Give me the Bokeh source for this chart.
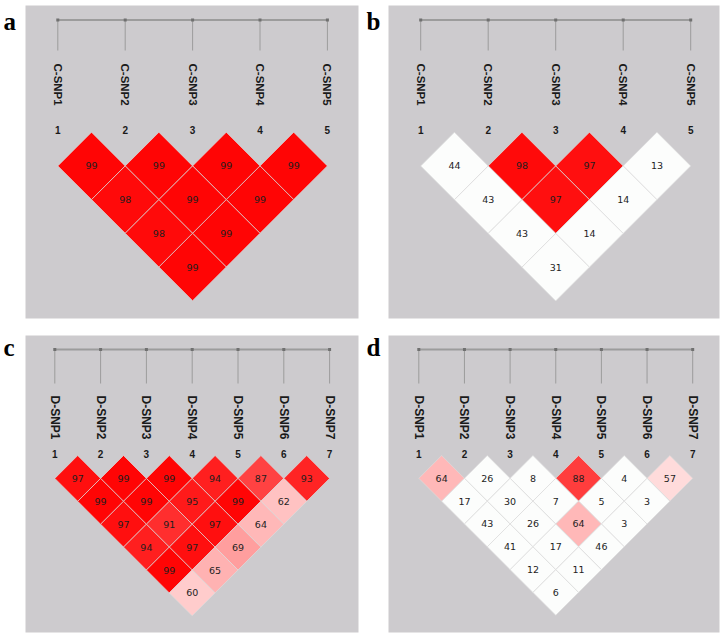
from math import pi
from bokeh.plotting import figure
from bokeh.layouts import column, row
from bokeh.models import Range1d
from bokeh.core.properties import value
from bokeh.embed import file_html
from bokeh.resources import INLINE

# ---------------- data ----------------
c_snps = ["C-SNP1", "C-SNP2", "C-SNP3", "C-SNP4", "C-SNP5"]
d_snps = ["D-SNP1", "D-SNP2", "D-SNP3", "D-SNP4", "D-SNP5", "D-SNP6", "D-SNP7"]

# D' (x100) by distance between markers: row k holds pairs (i, i+k)
a_dprime = [[99, 99, 99, 99], [98, 99, 99], [98, 99], [99]]
a_strong = [[1, 1, 1, 1], [1, 1, 1], [1, 1], [1]]

b_dprime = [[44, 98, 97, 13], [43, 97, 14], [43, 14], [31]]
b_strong = [[0, 1, 1, 0], [0, 1, 0], [0, 0], [0]]

c_dprime = [[97, 99, 99, 94, 87, 93], [99, 99, 95, 99, 62], [97, 91, 97, 64],
            [94, 97, 69], [99, 65], [60]]
c_strong = [[1, 1, 1, 1, 1, 1], [1, 1, 1, 1, 1], [1, 1, 1, 1], [1, 1, 1], [1, 1], [1]]

d_dprime = [[64, 26, 8, 88, 4, 57], [17, 30, 7, 5, 3], [43, 26, 64, 3],
            [41, 17, 46], [12, 11], [6]]
d_strong = [[1, 0, 0, 1, 0, 1], [0, 0, 0, 0, 0], [0, 0, 1, 0], [0, 0, 0], [0, 0], [0]]

panel_letters = ["a", "b", "c", "d"]

# ---------------- layout / style (reference pixel geometry) ----------------
GRAY = "#cdcbce"
LINE = "#9c9c9c"

LAYOUT = [
    dict(fig=(0, 0, 361, 326), gray=(25, 5, 358, 318), x1=57.3, sp=67.4, ytop=131.7,
         bracket=19.5, vbot=50, label_top=63, label_size="11.5px", num_y=129, letter=(3, 21)),
    dict(fig=(361, 0, 361, 326), gray=(388, 5, 719, 318), x1=420.2, sp=67.5, ytop=131.7,
         bracket=19.5, vbot=50, label_top=63, label_size="11.5px", num_y=129, letter=(366, 21)),
    dict(fig=(0, 326, 361, 307), gray=(25, 335, 358, 632), x1=54.3, sp=45.8, ytop=455,
         bracket=349, vbot=383, label_top=395, label_size="12px", num_y=453.5, letter=(3, 347)),
    dict(fig=(361, 326, 361, 307), gray=(388, 335, 719, 632), x1=418.3, sp=45.65, ytop=455,
         bracket=349, vbot=383, label_top=395, label_size="12px", num_y=453.5, letter=(366, 347)),
]


def ld_color(v, strong):
    if not strong:
        return "#fcfdfc"
    g = int(round(min(255, max(0, 510 * (1 - v / 100.0)))))
    return "#ff%02x%02x" % (g, g)


def make_panel(snps, dprime, strong, letter, L):
    fx, fy, fw, fh = L["fig"]
    x1, sp, ytop = L["x1"], L["sp"], L["ytop"]

    def X(px):
        return 1 + (px - x1) / sp

    def Y(py):
        return (ytop - py) / sp

    p = figure(width=fw, height=fh,
               x_range=Range1d(X(fx), X(fx + fw)),
               y_range=Range1d(Y(fy + fh), Y(fy)),
               output_backend="svg", toolbar_location=None,
               x_axis_location=None, y_axis_location=None,
               min_border=0, outline_line_color=None,
               background_fill_color="white", border_fill_color="white")
    p.grid.visible = False

    gl, gt, gr, gb = L["gray"]
    p.quad(left=[X(gl)], right=[X(gr)], top=[Y(gt)], bottom=[Y(gb)],
           fill_color=GRAY, line_color=None)

    n = len(snps)
    idx = list(range(1, n + 1))

    # bracket at top
    p.segment(x0=[1], x1=[n], y0=[Y(L["bracket"])], y1=[Y(L["bracket"])],
              line_color=LINE, line_width=2)
    p.segment(x0=idx, x1=idx, y0=[Y(L["bracket"])] * n, y1=[Y(L["vbot"])] * n,
              line_color=LINE, line_width=1)
    p.scatter(x=idx, y=[Y(L["bracket"])] * n, size=3, marker="square",
              fill_color="#707070", line_color=None)

    # marker names
    p.text(x=idx, y=[Y(L["label_top"])] * n, text=snps, angle=-pi / 2,
           text_align="left", text_baseline="middle",
           text_font=value("Liberation Sans"), text_font_style="bold",
           text_font_size=L["label_size"], text_color="#1a1a1a")
    # marker numbers
    p.text(x=idx, y=[Y(L["num_y"])] * n, text=[str(i) for i in idx],
           text_align="center", text_baseline="middle",
           text_font=value("Liberation Sans"), text_font_style="bold",
           text_font_size="10px", text_color="#1a1a1a")

    # LD diamonds
    xs, ys, cols, cx, cy, labels = [], [], [], [], [], []
    for k, (vals, sts) in enumerate(zip(dprime, strong), start=1):
        for m, (v, s) in enumerate(zip(vals, sts)):
            i, j = m + 1, m + 1 + k
            x0 = (i + j) / 2.0
            y0 = -k / 2.0
            xs.append([x0 - 0.5, x0, x0 + 0.5, x0])
            ys.append([y0, y0 + 0.5, y0, y0 - 0.5])
            cols.append(ld_color(v, s))
            cx.append(x0)
            cy.append(y0)
            labels.append(str(v))
    p.patches(xs=xs, ys=ys, fill_color=cols, line_color="#dcdcdc",
              line_alpha=0.7, line_width=1)
    p.text(x=cx, y=cy, text=labels, text_align="center", text_baseline="middle",
           text_font=value("DejaVu Sans"), text_font_size="9.5px", text_color="#1e1e1e")

    # panel letter
    lx, ly = L["letter"]
    p.text(x=[X(lx)], y=[Y(ly)], text=[letter], text_align="left",
           text_baseline="alphabetic", text_font=value("Liberation Serif"),
           text_font_style="bold", text_font_size="25px", text_color="black")
    return p


pa = make_panel(c_snps, a_dprime, a_strong, panel_letters[0], LAYOUT[0])
pb = make_panel(c_snps, b_dprime, b_strong, panel_letters[1], LAYOUT[1])
pc = make_panel(d_snps, c_dprime, c_strong, panel_letters[2], LAYOUT[2])
pd = make_panel(d_snps, d_dprime, d_strong, panel_letters[3], LAYOUT[3])

layout = column(row(pa, pb, spacing=0), row(pc, pd, spacing=0), spacing=0)

open("out.html", "w").write(file_html(layout, INLINE))
